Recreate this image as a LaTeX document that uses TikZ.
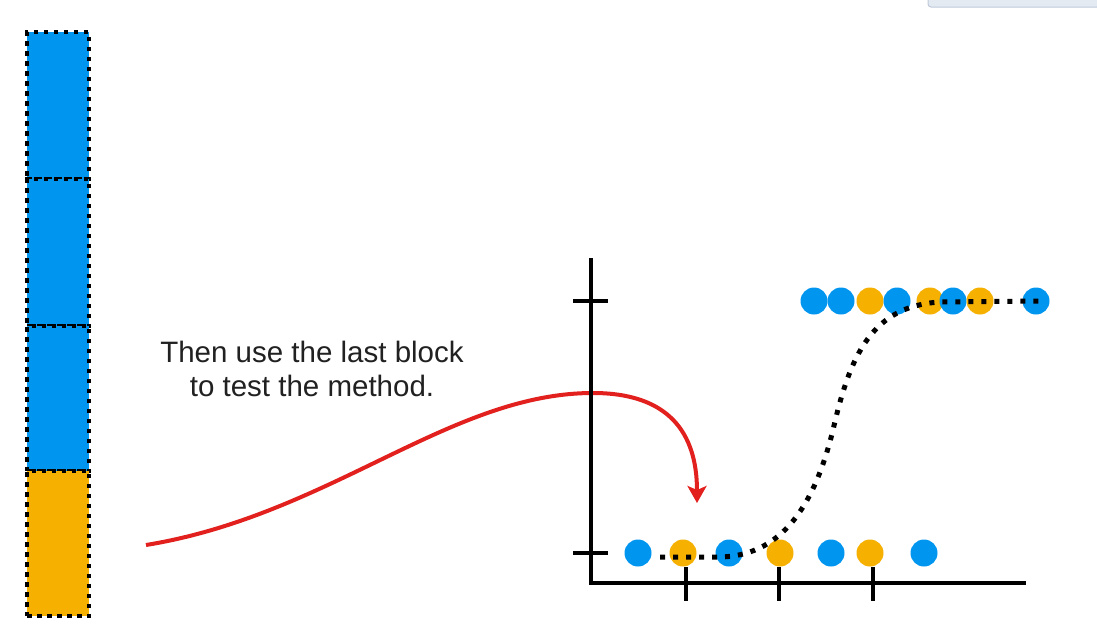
\documentclass[tikz,border=0pt]{standalone}
\usepackage{fontspec}
\setmainfont{Liberation Sans}
\usetikzlibrary{arrows.meta}
\definecolor{cblue}{RGB}{0,150,240}
\definecolor{corange}{RGB}{245,176,0}
\definecolor{cred}{RGB}{226,32,30}
\definecolor{btnfill}{RGB}{228,234,242}
\definecolor{btndraw}{RGB}{190,202,218}
\tikzset{
  blk/.style={rectangle, inner sep=0pt, minimum width=62pt, draw=black, line width=4.5pt, dash pattern=on 4.5pt off 5.5pt},
  axisline/.style={line width=4pt, black},
  dotb/.style={circle, fill=cblue, inner sep=0pt, minimum size=27pt},
  doto/.style={circle, fill=corange, inner sep=0pt, minimum size=27pt},
  curve/.style={line width=5pt, dash pattern=on 5pt off 8pt, black},
  redarrow/.style={line width=4pt, cred, -{Stealth[width=19pt,length=17pt,inset=4pt]}},
  lbl/.style={font=\fontsize{29.5}{34}\selectfont, align=center, text=black!87}
}
\begin{document}
\begin{tikzpicture}[x=1pt,y=-1pt]
\useasboundingbox (0,0) rectangle (1097,629);
\fill[white] (0,0) rectangle (1097,629);
% partial button at top right
\filldraw[fill=btnfill, draw=btndraw, line width=1pt, rounded corners=3pt] (928,-10) rectangle (1100,7);
% bar of blocks
\node[blk, fill=cblue, minimum height=147pt] (b1) at (58,105.5) {};
\node[blk, fill=cblue, minimum height=147pt] (b2) at (58,252.5) {};
\node[blk, fill=cblue, minimum height=145pt] (b3) at (58,398.5) {};
\node[blk, fill=corange, minimum height=145pt] (b4) at (58,543.5) {};
% text
\node[lbl] (txt) at (312,369) {Then use the last block\\to test the method.};
% red arrow
\coordinate (rs) at (146,545);
\coordinate (rp) at (593,393);
\coordinate (rt) at (697,503);
\draw[redarrow] (rs) .. controls (330,515) and (450,393) .. (rp) .. controls (668,393) and (697,432) .. (rt);
% axes
\coordinate (ytop) at (591,258);
\coordinate (orig) at (591,583);
\coordinate (xend) at (1026,583);
\draw[axisline] (ytop) -- (orig) -- (xend);
\draw[axisline] (573,301) -- (608,301);
\draw[axisline] (573,553) -- (608,553);
\draw[axisline] (686,567) -- (686,601);
\draw[axisline] (779,567) -- (779,601);
\draw[axisline] (873,567) -- (873,601);
% top row of dots
\node[dotb] (t1) at (814,301) {};
\node[dotb] (t2) at (841,301) {};
\node[doto] (t3) at (870,301) {};
\node[dotb] (t4) at (897,301) {};
\node[doto] (t5) at (930,301) {};
\node[dotb] (t6) at (953,301) {};
\node[doto] (t7) at (980,301) {};
\node[dotb] (t8) at (1036,301) {};
% bottom row of dots
\node[dotb] (d1) at (638,553) {};
\node[doto] (d2) at (683,553) {};
\node[dotb] (d3) at (729,553) {};
\node[doto] (d4) at (780,553) {};
\node[dotb] (d5) at (831,553) {};
\node[doto] (d6) at (870,553) {};
\node[dotb] (d7) at (924,553) {};
% dotted sigmoid curve
\coordinate (cs) at (660,557);
\coordinate (ce) at (1040,301);
\draw[curve] (cs) -- (718,557) .. controls (790,557) and (818,490) .. (833,430)
  .. controls (850,355) and (872,306) .. (940,302) -- (ce);
\end{tikzpicture}
\end{document}
